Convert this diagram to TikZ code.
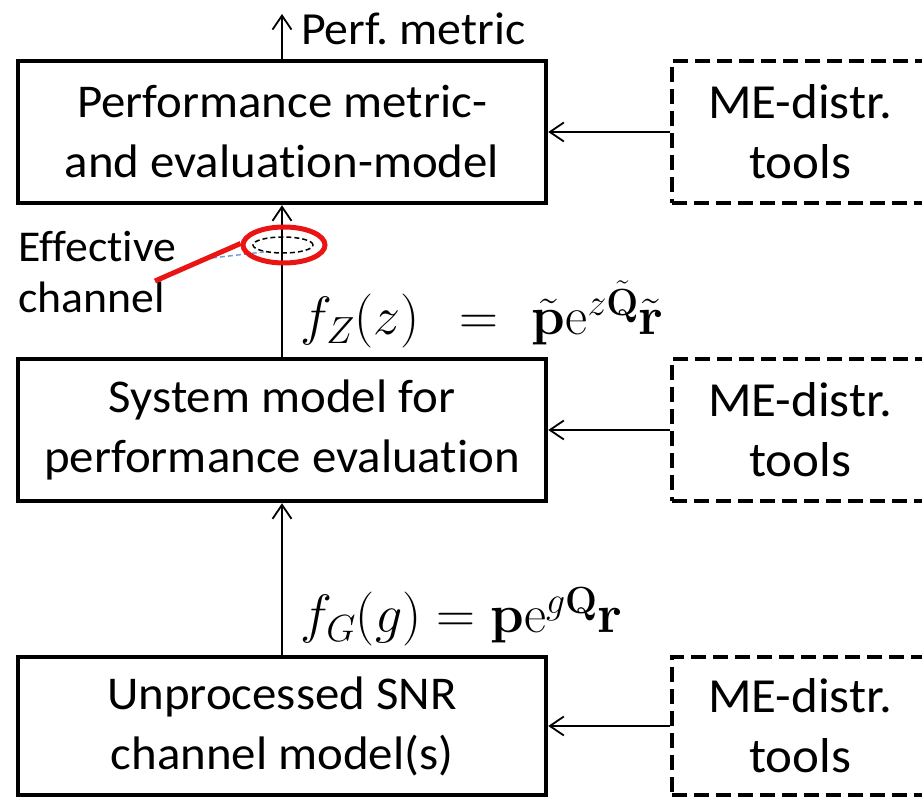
\RequirePackage{fix-cm}
\documentclass[tikz,border=0pt]{standalone}
\usepackage[no-math]{fontspec}
\setmainfont[FakeStretch=1.04,Ligatures={NoCommon,NoContextual,NoRare}]{Carlito}
\usetikzlibrary{arrows.meta,shapes.geometric}
\definecolor{ringred}{RGB}{235,20,20}
\definecolor{linkblue}{RGB}{120,160,215}
\begin{document}
\begin{tikzpicture}[x=1pt,y=-1pt,
  txt/.style={font=\fontsize{47}{60}\selectfont},
  box/.style={txt, draw, line width=4.5pt, minimum width=528pt, inner sep=0pt, align=center},
  dbox/.style={draw, line width=4.5pt, dash pattern=on 15pt off 7pt, minimum width=256pt, inner sep=0pt, align=center, font=\fontsize{49}{60}\selectfont},
  arr/.style={line width=1.8pt, -{Straight Barb[length=14pt,width=19pt,line width=1.8pt]}},
  lbl/.style={inner sep=0pt, anchor=base west},
  mlbl/.style={inner sep=0pt, anchor=base west, font=\fontsize{54}{60}\selectfont}]
\useasboundingbox (0,0) rectangle (922,799);
\clip (0,0) rectangle (922,799);

% main boxes
\node[box, minimum height=142pt] (perf) at (282,132) {Performance metric-\\and evaluation-model};
\node[box, minimum height=142pt] (sys) at (282,430) {System model for\\performance evaluation};
\node[box, minimum height=138pt] (snr) at (282,726) {Unprocessed SNR\\channel model(s)};

% dashed tool boxes
\node[dbox, minimum height=142pt] (me1) at (800,132) {ME-distr.\\tools};
\node[dbox, minimum height=142pt] (me2) at (800,430) {ME-distr.\\tools};
\node[dbox, minimum height=138pt] (me3) at (800,726) {ME-distr.\\tools};

% output
\coordinate (out) at (282,14);
\node[lbl, font=\fontsize{46}{56}\selectfont] (perflbl) at (301,45) {Perf.\ metric};

% formulas
\node[mlbl] (fz) at (300,335) {$f_Z(z)$\hspace{40pt}$=$\hspace{33pt}$\tilde{\mathbf{p}}\mathrm{e}^{z\tilde{\mathbf{Q}}}\tilde{\mathbf{r}}$};
\node[mlbl] (fg) at (300,633) {$f_G(g) = \mathbf{p}\mathrm{e}^{g\mathbf{Q}}\mathbf{r}$};

% connectors
\draw[arr] (snr.north) -- (sys.south);
\draw[arr] (sys.north) -- (perf.south);
\draw[arr] (perf.north) -- (out);
\draw[arr] (me1.west) -- (perf.east);
\draw[arr] (me2.west) -- (sys.east);
\draw[arr] (me3.west) -- (snr.east);

% effective channel annotation
\node[lbl, font=\fontsize{44}{52}\selectfont] (eff1) at (18,262) {Effective};
\node[lbl, font=\fontsize{44}{52}\selectfont] (eff2) at (18,313) {channel};
\node[ellipse, draw, line width=1.5pt, dash pattern=on 5pt off 3pt, minimum width=60pt, minimum height=16pt, inner sep=0pt] (chan) at (283,245) {};
\coordinate (blueend) at (212,258);
\draw[linkblue, line width=1.5pt, dash pattern=on 5pt off 3pt] (blueend) -- (chan.200);
\node[ellipse, draw=ringred, line width=5pt, minimum width=82pt, minimum height=36pt, inner sep=0pt] (ring) at (284,245) {};
\coordinate (redend) at (155,281);
\draw[ringred, line width=5pt] (redend) -- (ring.178);
\end{tikzpicture}
\end{document}
